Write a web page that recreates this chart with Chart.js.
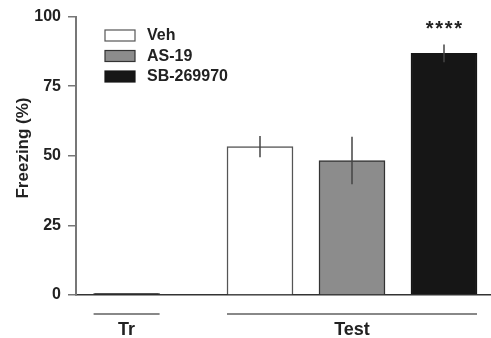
<!DOCTYPE html>
<html>
<head>
<meta charset="utf-8">
<script src="https://cdn.jsdelivr.net/npm/chart.js@4"></script>
<style>
html, body { margin: 0; padding: 0; background: #fff; }
#wrap { width: 491px; height: 338px; }
</style>
</head>
<body>
<div id="wrap"><canvas id="grafico"></canvas></div>
<script>
// dados
var grupos = ['Tr', 'Veh', 'AS-19', 'SB-269970'];
var posicoes = [1.1, 4, 6, 8];
var valores = [0.5, 53.3, 48.3, 86.8];
var erros = [0, 3.8, 8.5, 3.2];
var estrelas = ['', '', '', '****'];
var cores = ['#111111', '#ffffff', '#8c8c8c', '#161616'];
var bordas = ['#111111', '#555555', '#333333', '#161616'];
var legendaNomes = ['Veh', 'AS-19', 'SB-269970'];
var legendaCores = ['#ffffff', '#8c8c8c', '#161616'];
var legendaBordas = ['#555555', '#333333', '#161616'];
var fases = ['Tr', 'Test'];
var faseInicio = [0, 1];
var faseFim = [0, 3];
var yTicks = [0, 25, 50, 75, 100];

var fonte = "'Liberation Sans', Arial, sans-serif";
var larguraBarra = 66;

var extras = {
    id: 'extras',
    afterDatasetsDraw: function(chart) {
        var ctx = chart.ctx;
        var x = chart.scales.x;
        var y = chart.scales.y;

        // barras de erro
        ctx.save();
        ctx.strokeStyle = '#444';
        ctx.lineWidth = 1.5;
        for (let i = 0; i < valores.length; i++) {
            if (!erros[i]) continue;
            var px = x.getPixelForValue(posicoes[i]);
            ctx.beginPath();
            ctx.moveTo(px, y.getPixelForValue(valores[i] - erros[i]));
            ctx.lineTo(px, y.getPixelForValue(valores[i] + erros[i]));
            ctx.stroke();
        }

        // asteriscos
        ctx.fillStyle = '#222';
        ctx.font = 'bold 20px ' + fonte;
        ctx.textAlign = 'center';
        ctx.textBaseline = 'middle';
        for (let i = 0; i < valores.length; i++) {
            if (!estrelas[i]) continue;
            var cx = x.getPixelForValue(posicoes[i]);
            var n = estrelas[i].length;
            for (let k = 0; k < n; k++) {
                ctx.fillText('*', cx + (k - (n - 1) / 2) * 9.5, y.getPixelForValue(valores[i] + erros[i]) - 15);
            }
        }

        // legenda
        for (let i = 0; i < legendaNomes.length; i++) {
            var ly = 30 + i * 20.5;
            ctx.fillStyle = legendaCores[i];
            ctx.fillRect(105, ly, 30, 11);
            ctx.strokeStyle = legendaBordas[i];
            ctx.lineWidth = 1.2;
            ctx.strokeRect(105, ly, 30, 11);
            ctx.fillStyle = '#222';
            ctx.textAlign = 'left';
            ctx.font = 'bold 16px ' + fonte;
            ctx.fillText(legendaNomes[i], 147, ly + 6);
        }

        // linhas das fases
        ctx.strokeStyle = '#888';
        ctx.lineWidth = 2;
        ctx.font = 'bold 18px ' + fonte;
        ctx.textAlign = 'center';
        for (let i = 0; i < fases.length; i++) {
            var x0 = x.getPixelForValue(posicoes[faseInicio[i]]) - larguraBarra / 2;
            var x1 = x.getPixelForValue(posicoes[faseFim[i]]) + larguraBarra / 2;
            ctx.beginPath();
            ctx.moveTo(x0, 314);
            ctx.lineTo(x1, 314);
            ctx.stroke();
            ctx.fillStyle = '#222';
            ctx.fillText(fases[i], (x0 + x1) / 2, 330);
        }

        // titulo do eixo y
        ctx.translate(23, 148);
        ctx.rotate(-Math.PI / 2);
        ctx.font = 'bold 17px ' + fonte;
        ctx.fillText('Freezing (%)', 0, 0);
        ctx.restore();
    }
};

new Chart(document.getElementById('grafico'), {
    type: 'bar',
    data: {
        datasets: [{
            label: 'Freezing',
            data: posicoes.map(function(p, i) { return { x: p, y: valores[i] }; }),
            backgroundColor: cores,
            borderColor: bordas,
            borderWidth: 1.5,
            barThickness: larguraBarra
        }]
    },
    options: {
        responsive: true,
        maintainAspectRatio: false,
        animation: false,
        layout: { padding: { left: 0, right: 1, top: 15, bottom: 43 } },
        plugins: {
            legend: { display: false },
            tooltip: { enabled: false }
        },
        scales: {
            x: {
                type: 'linear',
                offset: false,
                min: 0,
                max: 9,
                ticks: { display: false },
                grid: { display: false, offset: false },
                border: { display: true, color: '#333', width: 1.5 },
                afterFit: function(s) { s.height = 0; }
            },
            y: {
                min: 0,
                max: 100,
                afterBuildTicks: function(s) { s.ticks = yTicks.map(function(v) { return { value: v }; }); },
                ticks: {
                    color: '#222',
                    padding: 7,
                    font: { family: fonte, size: 16, weight: 'bold' }
                },
                grid: {
                    display: true,
                    drawOnChartArea: false,
                    drawTicks: true,
                    tickLength: 8,
                    color: '#777',
                    lineWidth: 1.5
                },
                border: { display: true, color: '#777', width: 2 },
                title: { display: false },
                afterFit: function(s) { s.width = 76; }
            }
        }
    },
    plugins: [extras]
});
</script>
</body>
</html>
